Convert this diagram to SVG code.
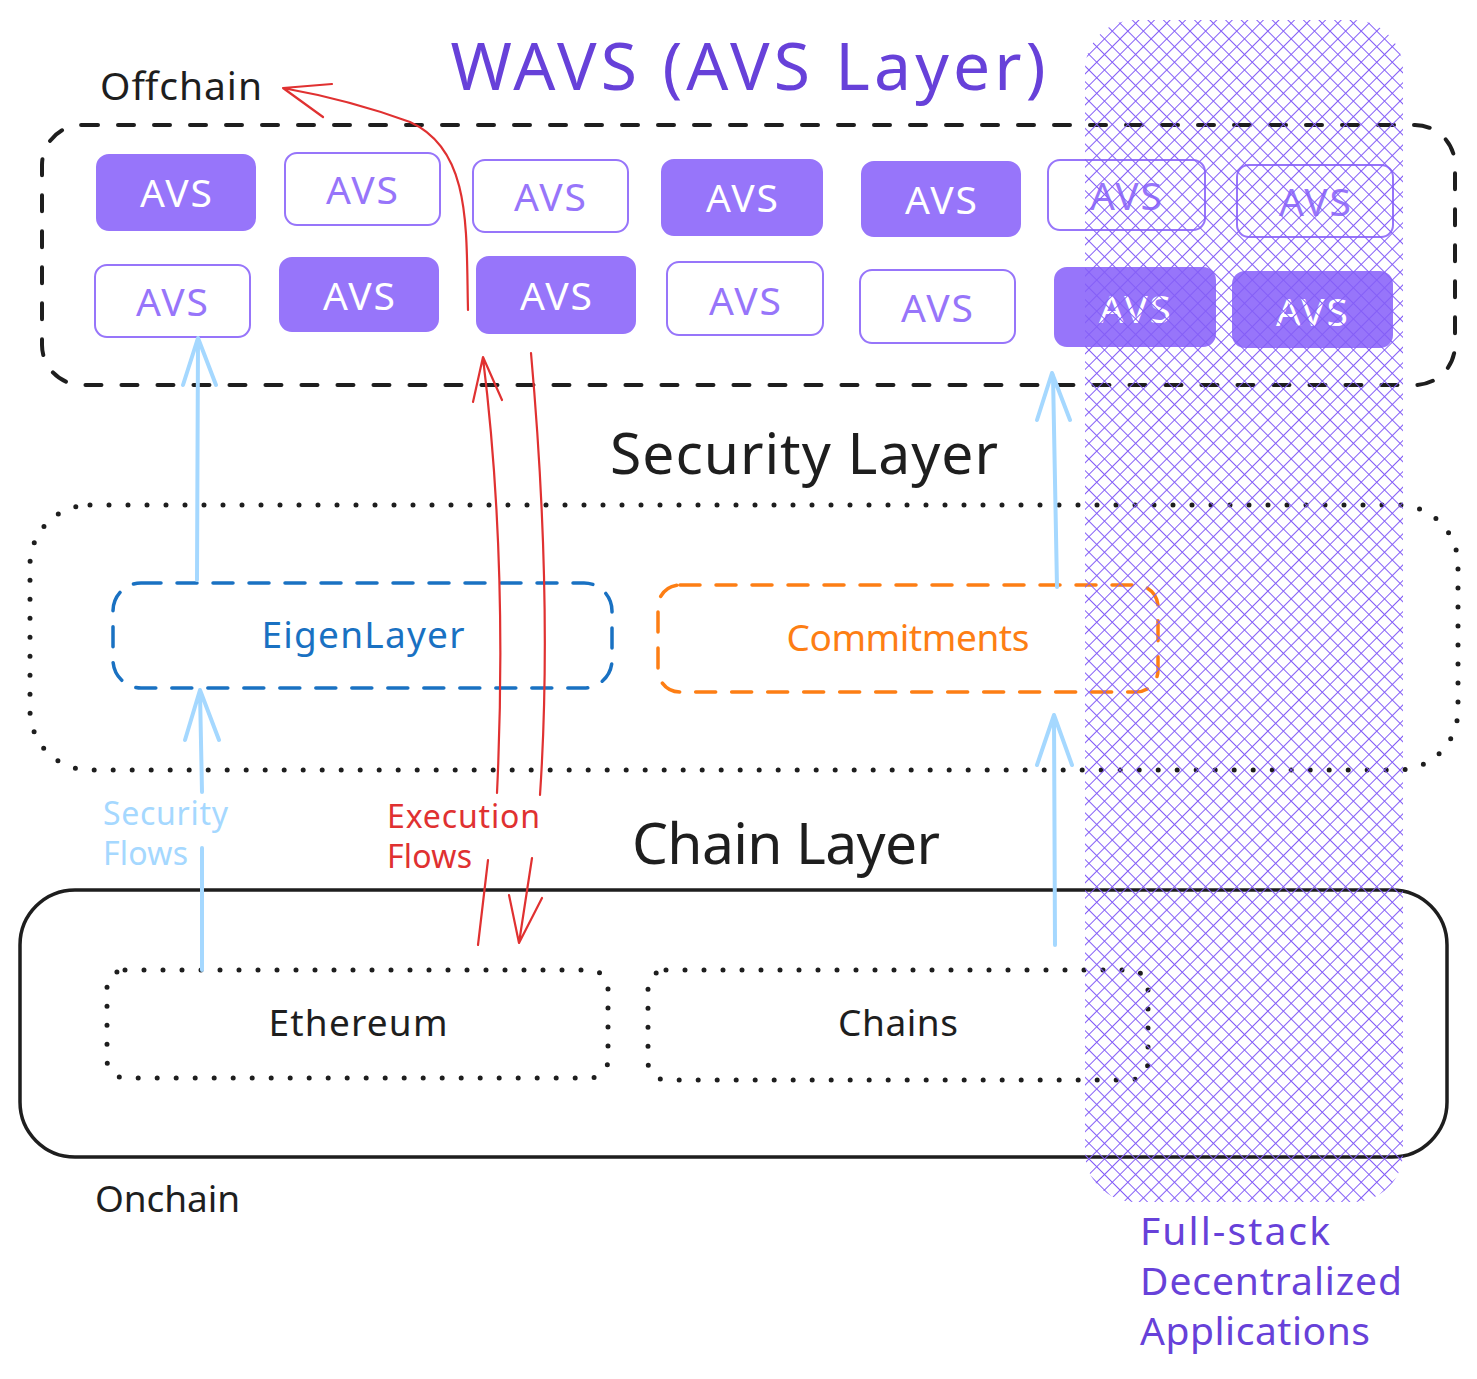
<svg xmlns="http://www.w3.org/2000/svg" width="1477" height="1379" viewBox="0 0 1477 1379">
<style>
text{font-family:"Noto Sans","Liberation Sans",sans-serif}
.avs-f rect{fill:#9775fa;stroke:#9775fa;stroke-width:2}
.avs-o rect{fill:#fff;stroke:#9775fa;stroke-width:2}
.avs-f text{fill:#fff;font-size:39px;text-anchor:middle}
.avs-o text{fill:#9775fa;font-size:39px;text-anchor:middle}
.dot{fill:none;stroke:#1e1e1e;stroke-width:5;stroke-linecap:round;stroke-dasharray:0 19}
.lbl{fill:#1e1e1e;font-size:37px;text-anchor:middle}
.big{fill:#1e1e1e;font-size:57px;text-anchor:middle}
.blue{fill:none;stroke:#a5d8ff;stroke-width:4;stroke-linecap:round;stroke-linejoin:round}
.red{fill:none;stroke:#e03131;stroke-width:2.2;stroke-linecap:round;stroke-linejoin:round}
</style>
<defs>
<pattern id="xh" patternUnits="userSpaceOnUse" width="11" height="11" patternTransform="rotate(45)">
<path d="M0 5.5H11M5.5 0V11" stroke="#845ef7" stroke-width="1"/>
</pattern>
</defs>
<rect width="1477" height="1379" fill="#fff"/>

<text x="748" y="90" textLength="595" style="fill:#6741d9;font-size:66px;text-anchor:middle">WAVS (AVS Layer)</text>

<g id="offchain">
<rect x="42" y="125" width="1413" height="260" rx="40" fill="none" stroke="#1e1e1e" stroke-width="4" stroke-linecap="round" stroke-dasharray="16 20"/>
<text x="100" y="100" textLength="162" style="fill:#1e1e1e;font-size:39px">Offchain</text>
</g>

<g id="avs-r1c1" class="avs-f"><rect x="97" y="155" width="158" height="75" rx="12"/><text x="176" y="207" textLength="72">AVS</text></g>
<g id="avs-r1c2" class="avs-o"><rect x="285" y="153" width="155" height="72" rx="12"/><text x="362" y="204" textLength="72">AVS</text></g>
<g id="avs-r1c3" class="avs-o"><rect x="473" y="160" width="155" height="72" rx="12"/><text x="550" y="211" textLength="72">AVS</text></g>
<g id="avs-r1c4" class="avs-f"><rect x="662" y="160" width="160" height="75" rx="12"/><text x="742" y="212" textLength="72">AVS</text></g>
<g id="avs-r1c5" class="avs-f"><rect x="862" y="162" width="158" height="74" rx="12"/><text x="941" y="214" textLength="72">AVS</text></g>
<g id="avs-r1c6" class="avs-o"><rect x="1048" y="160" width="157" height="70" rx="12"/><text x="1126" y="210" textLength="72">AVS</text></g>
<g id="avs-r1c7" class="avs-o"><rect x="1237" y="165" width="156" height="72" rx="12"/><text x="1315" y="216" textLength="72">AVS</text></g>

<g id="avs-r2c1" class="avs-o"><rect x="95" y="265" width="155" height="72" rx="12"/><text x="172" y="316" textLength="72">AVS</text></g>
<g id="avs-r2c2" class="avs-f"><rect x="280" y="258" width="158" height="73" rx="12"/><text x="359" y="310" textLength="72">AVS</text></g>
<g id="avs-r2c3" class="avs-f"><rect x="477" y="257" width="158" height="76" rx="12"/><text x="556" y="310" textLength="72">AVS</text></g>
<g id="avs-r2c4" class="avs-o"><rect x="667" y="262" width="156" height="73" rx="12"/><text x="745" y="315" textLength="72">AVS</text></g>
<g id="avs-r2c5" class="avs-o"><rect x="860" y="270" width="155" height="73" rx="12"/><text x="937" y="322" textLength="72">AVS</text></g>
<g id="avs-r2c6" class="avs-f"><rect x="1055" y="268" width="160" height="78" rx="12"/><text x="1135" y="323" textLength="72">AVS</text></g>
<g id="avs-r2c7" class="avs-f"><rect x="1233" y="272" width="159" height="75" rx="12"/><text x="1312" y="326" textLength="72">AVS</text></g>

<g id="security-layer">
<rect class="dot" x="30" y="505" width="1428" height="265" rx="60"/>
<text class="big" x="804" y="474" textLength="388">Security Layer</text>
</g>

<g id="eigenlayer">
<rect x="113" y="583" width="499" height="105" rx="28" fill="none" stroke="#1971c2" stroke-width="3.5" stroke-linecap="round" stroke-dasharray="20 16"/>
<text x="363" y="648" textLength="203" style="fill:#1971c2;font-size:37px;text-anchor:middle">EigenLayer</text>
</g>

<g id="commitments">
<rect x="658" y="585" width="500" height="107" rx="22" fill="none" stroke="#fd7e14" stroke-width="3.5" stroke-linecap="round" stroke-dasharray="20 16"/>
<text x="908" y="651" textLength="243" style="fill:#fd7e14;font-size:37px;text-anchor:middle">Commitments</text>
</g>

<g id="onchain">
<rect x="20" y="890" width="1427" height="267" rx="55" fill="none" stroke="#1e1e1e" stroke-width="3.5"/>
<text class="big" x="786" y="864" textLength="308">Chain Layer</text>
<text x="95" y="1212" textLength="145" style="fill:#1e1e1e;font-size:37px">Onchain</text>
</g>

<g id="ethereum">
<rect class="dot" x="107" y="970" width="501" height="108" rx="18"/>
<text class="lbl" x="358" y="1036" textLength="179">Ethereum</text>
</g>

<g id="chains">
<rect class="dot" x="648" y="970" width="500" height="110" rx="18"/>
<text class="lbl" x="898" y="1036" textLength="120">Chains</text>
</g>

<g id="connectors">
<path class="blue" d="M202 970 L202 848 M202 792 L200 692 M185 740 L200 690 L219 740"/>
<path class="blue" d="M197 580 L198 340 M183 385 L198 338 L216 385"/>
<path class="blue" d="M1055 945 L1054 717 M1037 765 L1054 715 L1072 765"/>
<path class="blue" d="M1057 587 L1053 375 M1037 420 L1052 373 L1070 420"/>
<text x="103" y="825" textLength="125" style="fill:#a5d8ff;font-size:32px">Security</text>
<text x="103" y="865" textLength="85" style="fill:#a5d8ff;font-size:32px">Flows</text>
<path class="red" d="M478 945 L488 860 M497 793 Q508 560 483 358 M473 402 L483 357 L502 400"/>
<path class="red" d="M531 353 Q553 600 540 795 M532 858 L519 943 M509 895 L519 943 L542 898"/>
<path class="red" d="M468 310 C466 230 472 150 410 122 Q350 100 283 88 M332 84 L283 88 L323 117"/>
<text x="387" y="828" textLength="153" style="fill:#e03131;font-size:32px">Execution</text>
<text x="387" y="868" textLength="85" style="fill:#e03131;font-size:32px">Flows</text>
</g>

<g id="fullstack-dapps">
<rect x="1085" y="20" width="318" height="1182" rx="50" fill="url(#xh)"/>
<text x="1140" y="1245" textLength="190" style="fill:#6741d9;font-size:39px">Full-stack</text>
<text x="1140" y="1295" textLength="262" style="fill:#6741d9;font-size:39px">Decentralized</text>
<text x="1140" y="1345" textLength="230" style="fill:#6741d9;font-size:39px">Applications</text>
</g>
</svg>
